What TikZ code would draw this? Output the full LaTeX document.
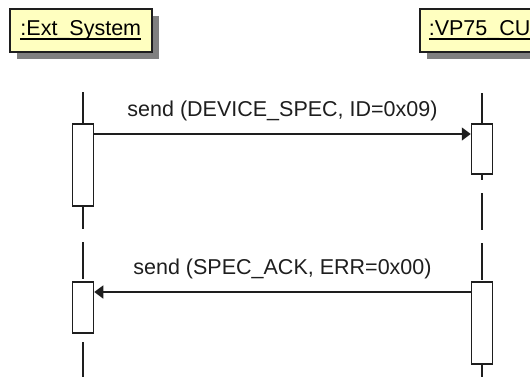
\documentclass[tikz,border=0pt]{standalone}
\usepackage{fontspec}
\setmainfont{Liberation Sans}
\usepackage{xcolor}
\usepackage{tikz}
\usetikzlibrary{arrows.meta, positioning, shadows}
\definecolor{notefill}{HTML}{FFFFC0}
\definecolor{shadowgray}{HTML}{808080}
\definecolor{lineblack}{HTML}{1E1E1E}
\newcommand{\diagfont}{\fontsize{21.5}{26}\selectfont}
\newcommand{\objlabel}[1]{\setbox0=\hbox{#1}\rlap{\rule[-4.6pt]{\wd0}{1.8pt}}\box0}
\tikzset{
  object/.style={rectangle, draw=lineblack, line width=1.6pt, fill=notefill,
                 anchor=north west, minimum height=43pt, inner xsep=8pt,
                 font=\diagfont,
                 drop shadow={shadow xshift=7pt, shadow yshift=-7pt,
                              fill=shadowgray, opacity=1}},
  activation/.style={rectangle, draw=lineblack, line width=1.5pt, fill=white,
                     anchor=north, minimum width=21pt, inner sep=0pt},
  lifeline/.style={line width=1.5pt, color=lineblack,
                   dash pattern=on 37pt off 13pt},
  msg/.style={-{Triangle[length=9pt, width=13pt]}, line width=1.5pt,
              color=lineblack},
  lbl/.style={font=\diagfont, text=lineblack, inner sep=0pt, above=12pt,
              midway},
}
\begin{document}
\begin{tikzpicture}[x=1pt, y=-1pt]
  \useasboundingbox (0,0) rectangle (530,376);

  % ── Objects ──────────────────────────────────────────────────────────────
  \node[object, minimum width=142pt] (ext)  at (9,8)   {\objlabel{:Ext\_System}};
  \node[object, inner xsep=9pt]      (vpcu) at (419,8) {\objlabel{:VP75\_CU}};

  % ── Lifelines ────────────────────────────────────────────────────────────
  \coordinate (extTop) at (83,92);
  \coordinate (extEnd) at (83,380);
  \coordinate (vpTop)  at (482,93);
  \coordinate (vpEnd)  at (482,380);
  \draw[lifeline] (extTop) -- (extEnd);
  \draw[lifeline] (vpTop)  -- (vpEnd);

  % ── Activations ──────────────────────────────────────────────────────────
  \node[activation, minimum height=82pt] (extAct1) at (83,123)  {};
  \node[activation, minimum height=51pt] (extAct2) at (83,281)  {};
  \node[activation, minimum height=50pt] (vpAct1)  at (482,123) {};
  \node[activation, minimum height=82pt] (vpAct2)  at (482,281) {};

  % ── Messages ─────────────────────────────────────────────────────────────
  \draw[msg] ([yshift=-11pt]extAct1.north east) --
    node[lbl] {send (DEVICE\_SPEC, ID=0x09)} ([yshift=-11pt]vpAct1.north west);
  \draw[msg] ([yshift=-11pt]vpAct2.north west) --
    node[lbl] {send (SPEC\_ACK, ERR=0x00)}   ([yshift=-11pt]extAct2.north east);

\end{tikzpicture}
\end{document}
